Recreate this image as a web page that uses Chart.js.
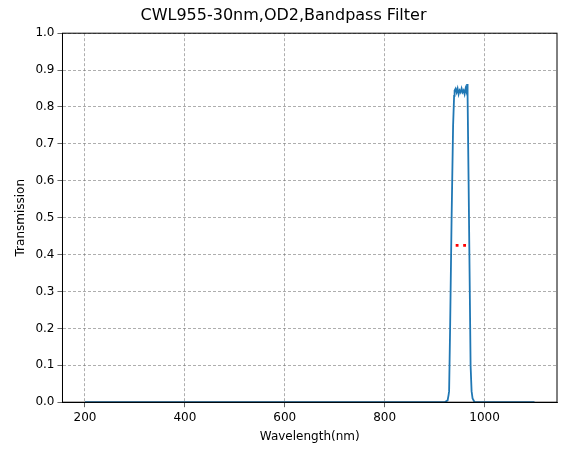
<!DOCTYPE html>
<html><head><script src="https://cdn.jsdelivr.net/npm/chart.js@4"></script>
<style>body{margin:0;background:#fff}#w{width:567px;height:455px}</style></head>
<body><div id="w"><canvas id="c"></canvas></div>
<script>
const wavelengths=[200,920,926,928,929,931,934,937,939,940,942,944,946,948,950,952,954,956,958,960,962,964,965,966,968,970,972,974,976,980,1100];
const transmission=[0,0,0.005,0.02,0.03,0.2,0.5,0.75,0.83,0.845,0.85,0.84,0.85,0.835,0.845,0.84,0.85,0.84,0.845,0.835,0.85,0.84,0.862,0.83,0.6,0.35,0.1,0.03,0.01,0,0];
const fwhmX=[945,960];
const fwhmY=[0.425,0.425];
const xTicks=[200,400,600,800,1000];
const yTicks=[0,0.1,0.2,0.3,0.4,0.5,0.6,0.7,0.8,0.9,1.0];
const grid={color:'#777',lineWidth:0.6,tickLength:5,tickColor:'#000'};
const boxPlugin={id:'box',afterDraw(ch){const a=ch.chartArea,c=ch.ctx;c.save();c.strokeStyle='#000';c.lineWidth=1;c.strokeRect(a.left,a.top,a.right-a.left,a.bottom-a.top);c.restore();}};
new Chart(document.getElementById('c'),{type:'scatter',
data:{datasets:[
{data:wavelengths.map((x,i)=>({x,y:transmission[i]})),showLine:true,borderColor:'#1f77b4',borderWidth:1.8,pointRadius:0,tension:0},
{data:fwhmX.map((x,i)=>({x,y:fwhmY[i]})),showLine:false,pointStyle:'rect',pointRadius:2,backgroundColor:'red',borderColor:'red',borderWidth:0}
]},
plugins:[boxPlugin],
options:{responsive:true,maintainAspectRatio:false,animation:false,
layout:{padding:{left:10,right:10,top:4,bottom:7}},
plugins:{legend:{display:false},tooltip:{enabled:false},
title:{display:true,text:'CWL955-30nm,OD2,Bandpass Filter',color:'#000',font:{family:'DejaVu Sans',size:16,weight:'normal'},padding:{top:2,bottom:8}}},
scales:{
x:{type:'linear',min:155,max:1145,afterBuildTicks:a=>{a.ticks=xTicks.map(v=>({value:v}))},
ticks:{color:'#000',font:{family:'DejaVu Sans',size:12},maxRotation:0,callback:v=>String(v)},grid:grid,border:{color:'#000',dash:[3,2]},
title:{display:true,text:'Wavelength(nm)',color:'#000',font:{family:'DejaVu Sans',size:12},padding:{top:2}}},
y:{min:0,max:1,afterBuildTicks:a=>{a.ticks=yTicks.map(v=>({value:v}))},
ticks:{color:'#000',font:{family:'DejaVu Sans',size:12},callback:v=>v.toFixed(1)},grid:grid,border:{color:'#000',dash:[3,2]},
title:{display:true,text:'Transmission',color:'#000',font:{family:'DejaVu Sans',size:12}}}
}}});
</script></body></html>
